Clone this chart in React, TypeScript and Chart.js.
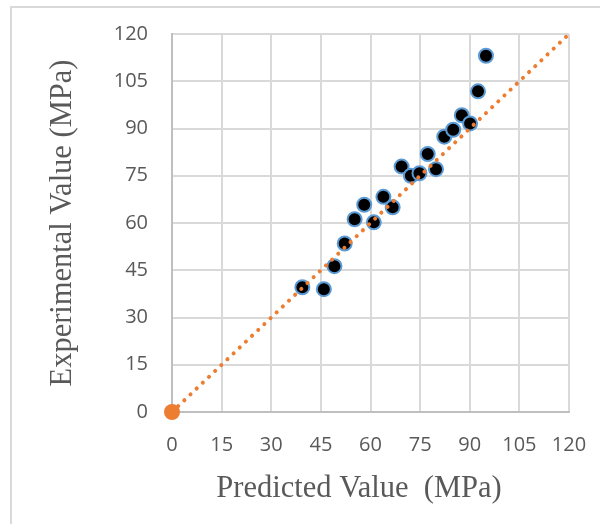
import React, { useEffect, useRef } from "react";
import { Chart, registerables } from "chart.js";

Chart.register(...registerables);

const predicted = [39.4, 45.9, 49.1, 52.2, 55.2, 58.1, 61.0, 63.9, 66.7, 69.4, 72.2, 74.8, 77.3, 79.8, 82.3, 85.0, 87.6, 90.1, 92.5, 94.9];
const experimental = [39.6, 39.0, 46.3, 53.5, 61.2, 65.8, 60.2, 68.3, 65.0, 77.9, 75.0, 75.8, 81.9, 77.1, 87.4, 89.6, 94.2, 91.6, 101.8, 113.1];
const lineX = [0, 120];
const lineY = [0, 120];
const tickValues = [0, 15, 30, 45, 60, 75, 90, 105, 120];
const xTitle = "Predicted Value  (MPa)";
const yTitle = "Experimental Value (MPa)";

const framePlugin = {
  id: "frame",
  beforeDraw(chart: any) {
    const ctx = chart.ctx;
    ctx.save();
    ctx.fillStyle = "#ffffff";
    ctx.fillRect(0, 0, chart.width, chart.height);
    ctx.strokeStyle = "#d9d9d9";
    ctx.lineWidth = 2;
    ctx.beginPath();
    ctx.moveTo(11, chart.height);
    ctx.lineTo(11, 7);
    ctx.lineTo(chart.width, 7);
    ctx.stroke();
    ctx.restore();
  },
};

export default function App() {
  const ref = useRef<HTMLCanvasElement>(null);
  useEffect(() => {
    if (!ref.current) return;
    const tickFont = { family: "'Open Sans', sans-serif", size: 20 };
    const titleFont = { family: "'Liberation Serif', 'Times New Roman', serif", size: 30.5 };
    const chart = new Chart(ref.current, {
      type: "scatter",
      data: {
        datasets: [
          {
            type: "line",
            data: lineX.map((x, i) => ({ x, y: lineY[i] })),
            borderColor: "#ed7d31",
            borderWidth: 4,
            borderDash: [0.1, 8.4],
            borderCapStyle: "round",
            pointRadius: [8, 0],
            pointBackgroundColor: "#ed7d31",
            pointBorderWidth: 0,
            showLine: true,
            fill: false,
            clip: false,
          } as any,
          {
            data: predicted.map((x, i) => ({ x, y: experimental[i] })),
            backgroundColor: "#000000",
            borderColor: "#5b9bd5",
            borderWidth: 2,
            pointRadius: 7,
          },
        ],
      },
      options: {
        animation: false,
        responsive: false,
        layout: { padding: { left: 0, top: 34, right: 31, bottom: 0 } },
        plugins: { legend: { display: false }, tooltip: { enabled: false } },
        scales: {
          x: {
            type: "linear",
            min: 0,
            max: 120,
            afterBuildTicks: (s: any) => {
              s.ticks = tickValues.map((v) => ({ value: v }));
            },
            afterFit: (s: any) => {
              s.height = 112;
              s.paddingLeft = 0;
              s.paddingRight = 0;
            },
            ticks: { font: tickFont, color: "#595959", padding: 21, maxRotation: 0 },
            grid: { color: "#d9d9d9", lineWidth: 2, drawTicks: false },
            border: { color: "#bfbfbf", width: 2 },
            title: {
              display: true,
              text: xTitle + "   ",
              font: titleFont,
              color: "#595959",
              padding: { top: 0, bottom: 17 },
            },
          },
          y: {
            type: "linear",
            min: 0,
            max: 120,
            afterBuildTicks: (s: any) => {
              s.ticks = tickValues.map((v) => ({ value: v }));
            },
            afterFit: (s: any) => {
              s.width = 172;
              s.paddingTop = 0;
              s.paddingBottom = 0;
            },
            ticks: { font: tickFont, color: "#595959", padding: 24 },
            grid: { color: "#d9d9d9", lineWidth: 2, drawTicks: false },
            border: { color: "#bfbfbf", width: 2 },
            title: {
              display: true,
              text: yTitle,
              font: titleFont,
              color: "#595959",
              padding: { top: 45, bottom: 0 },
            },
          },
        },
      },
      plugins: [framePlugin],
    } as any);
    return () => chart.destroy();
  }, []);
  return (
    <div style={{ position: "absolute", left: 0, top: 0, width: 600, height: 524 }}>
      <canvas ref={ref} width={600} height={524} />
    </div>
  );
}
